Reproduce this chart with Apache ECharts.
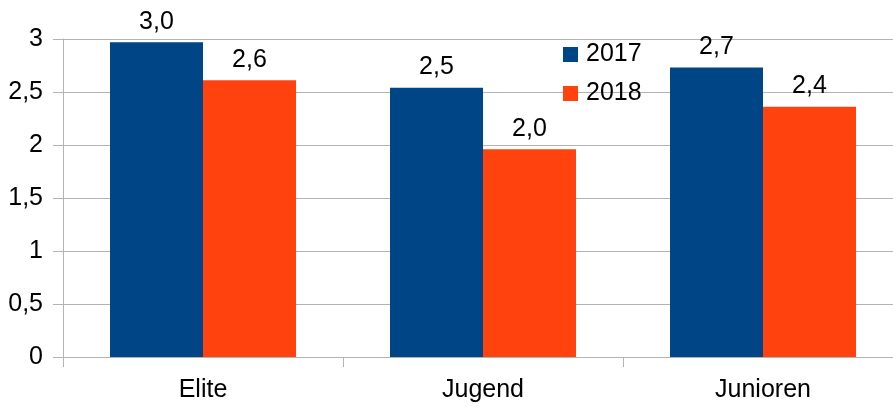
<!DOCTYPE html>
<html>
<head>
<meta charset="utf-8">
<script src="https://cdn.jsdelivr.net/npm/echarts@6/dist/echarts.min.js"></script>
<style>
  html, body { margin: 0; padding: 0; background: #fff; overflow: hidden; }
  /* the plot area runs past the right edge of the picture, so the canvas is a bit wider */
  #main { width: 903px; height: 407px; }
</style>
</head>
<body>
<div id="main"></div>
<script>
// data
const categories = ['Elite', 'Jugend', 'Junioren'];
const seriesNames = ['2017', '2018'];
const values2017 = [2.97, 2.54, 2.73];
const values2018 = [2.61, 1.96, 2.36];

const font = 'Liberation Sans';
const gray = '#b3b3b3';
const comma = (v) => v.toFixed(1).replace('.', ',');

const chart = echarts.init(document.getElementById('main'));

function barLabel() {
    return {
        show: true,
        position: 'top',
        distance: 8,
        fontSize: 25,
        color: '#000',
        formatter: (p) => comma(p.value)
    };
}

chart.setOption({
    animation: false,
    textStyle: {fontFamily: font},
    grid: {left: 63, top: 39, bottom: 50, right: 0},
    legend: {
        orient: 'vertical',
        left: 558,
        top: 37,
        itemWidth: 15,
        itemHeight: 15,
        itemGap: 14,
        icon: 'rect',
        textStyle: {fontSize: 25, color: '#000', fontFamily: font, padding: [0, 0, 0, 3]},
        data: seriesNames
    },
    xAxis: {
        type: 'category',
        data: categories,
        axisLine: {lineStyle: {color: gray}},
        axisTick: {show: true, length: 10, lineStyle: {color: gray}},
        axisLabel: {fontSize: 25, color: '#000', margin: 21}
    },
    yAxis: {
        type: 'value',
        min: 0,
        max: 3,
        interval: 0.5,
        axisLine: {show: true, lineStyle: {color: gray}},
        axisTick: {show: true, length: 10, lineStyle: {color: gray}},
        splitLine: {lineStyle: {color: gray}},
        axisLabel: {
            fontSize: 25,
            color: '#000',
            margin: 20,
            formatter: (v) => String(v).replace('.', ',')
        }
    },
    series: [
        {
            name: seriesNames[0],
            type: 'bar',
            data: values2017,
            barWidth: 93,
            barGap: '0%',
            itemStyle: {color: '#004586'},
            label: barLabel()
        },
        {
            name: seriesNames[1],
            type: 'bar',
            data: values2018,
            barWidth: 93,
            barGap: '0%',
            itemStyle: {color: '#ff420e'},
            label: barLabel()
        }
    ]
});
</script>
</body>
</html>
